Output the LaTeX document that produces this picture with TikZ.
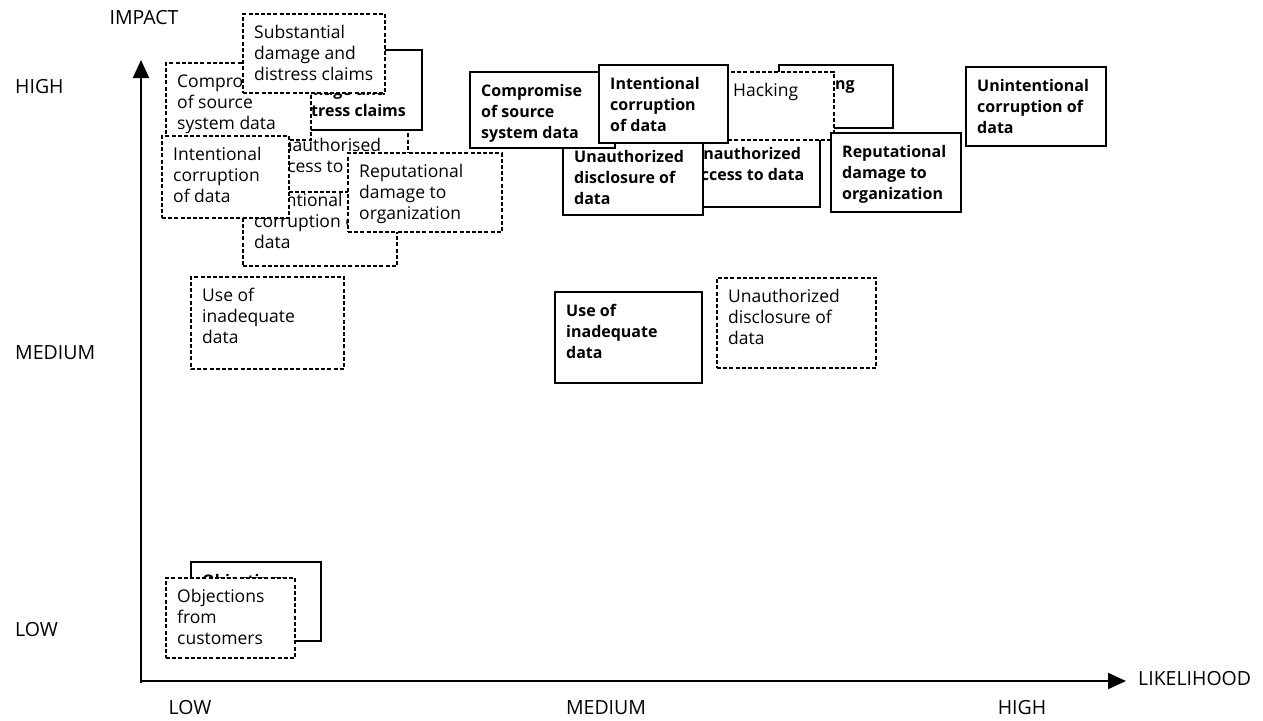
\documentclass[tikz,border=0pt]{standalone}
\usepackage{fontspec}
\setmainfont{Open Sans}
\usetikzlibrary{arrows.meta,calc}
\newcommand\riskbox[8]{%
  \node[#2, minimum width=#5pt, minimum height=#6pt] (#1) at (#3,#4) {};
  \node[#7] (#1t) at ($(#1.north west)+(11,24)$) {\parbox[t]{250pt}{#8}};
}
\begin{document}
\begin{tikzpicture}[x=1pt,y=-1pt,
  boxbase/.style={fill=white, line width=1.5pt, anchor=north west, inner sep=0pt, outer sep=0pt},
  solidbox/.style={boxbase, draw=black},
  dashbox/.style={boxbase, draw=black, dash pattern=on 4pt off 2.2pt},
  boldtxt/.style={anchor=base west, inner sep=0pt, font=\fontsize{16}{21}\selectfont\bfseries},
  regtxt/.style={anchor=base west, inner sep=0pt, font=\fontsize{17.5}{21}\selectfont},
  axislabel/.style={font=\fontsize{19.5}{21}\selectfont, inner sep=0pt},
  axisline/.style={line width=2pt, -{Triangle[length=18pt,width=16pt]}}
]
\useasboundingbox (0,0) rectangle (1263,720);

% axes
\coordinate (o) at (141,681);
\coordinate (ybot) at (141,683);
\coordinate (ytip) at (141,60);
\coordinate (xleft) at (140,681);
\coordinate (xtip) at (1126,681);
\draw[axisline] (ybot) -- (ytip);
\draw[axisline] (xleft) -- (xtip);

\node[axislabel] (limpact) at (144,18) {IMPACT};
\node[axislabel, anchor=west] (lhigh) at (15,87) {HIGH};
\node[axislabel, anchor=west] (lmed) at (15,353) {MEDIUM};
\node[axislabel, anchor=west] (llow) at (15,630) {LOW};
\node[axislabel] (xlow) at (190,708) {LOW};
\node[axislabel] (xmed) at (606,708) {MEDIUM};
\node[axislabel] (xhigh) at (1022,708) {HIGH};
\node[axislabel, anchor=west] (llike) at (1138,679) {LIKELIHOOD};

% top-left cluster
\riskbox{corrTL}{dashbox}{243}{182}{154}{84}{regtxt}{Intentional\\corruption of\\data}
\riskbox{accTL}{dashbox}{258}{127}{150}{65}{regtxt}{Unauthorised\\access to data}
\riskbox{substS}{solidbox}{277}{50}{145}{80}{boldtxt}{Substantial\\damage and\\distress claims}
\riskbox{compTL}{dashbox}{166}{63}{145}{77}{regtxt}{Compromise\\of source\\system data}
\riskbox{substTL}{dashbox}{243}{14}{142}{79}{regtxt}{Substantial\\damage and\\distress claims}
\riskbox{intTL}{dashbox}{162}{136}{127}{82}{regtxt}{Intentional\\corruption\\of data}
\riskbox{repTL}{dashbox}{348}{153}{154}{79}{regtxt}{Reputational\\damage to\\organization}

% medium row
\riskbox{useL}{dashbox}{191}{277}{153}{92}{regtxt}{Use of\\inadequate\\data}
\riskbox{useM}{solidbox}{555}{292}{147}{91}{boldtxt}{Use of\\inadequate\\data}
\riskbox{discL}{dashbox}{717}{278}{159}{90}{regtxt}{Unauthorized\\disclosure of\\data}

% middle-top cluster
\riskbox{hackS}{solidbox}{779}{65}{114}{63}{boldtxt}{Hacking}
\riskbox{accM}{solidbox}{680}{135}{140}{72}{boldtxt}{Unauthorized\\access to data}
\riskbox{hackD}{dashbox}{722}{72}{112}{68}{regtxt}{Hacking}
\riskbox{discM}{solidbox}{563}{138}{140}{77}{boldtxt}{Unauthorized\\disclosure of\\data}
\riskbox{compM}{solidbox}{470}{72}{145}{76}{boldtxt}{Compromise\\of source\\system data}
\riskbox{intM}{solidbox}{599}{65}{129}{78}{boldtxt}{Intentional\\corruption\\of data}

% right
\riskbox{repR}{solidbox}{831}{133}{130}{79}{boldtxt}{Reputational\\damage to\\organization}
\riskbox{unint}{solidbox}{966}{67}{140}{79}{boldtxt}{Unintentional\\corruption of\\data}

% bottom
\riskbox{objS}{solidbox}{191}{562}{130}{79}{boldtxt}{Objections\\from\\customers}
\riskbox{objD}{dashbox}{166}{578}{129}{80}{regtxt}{Objections\\from\\customers}
\end{tikzpicture}
\end{document}
